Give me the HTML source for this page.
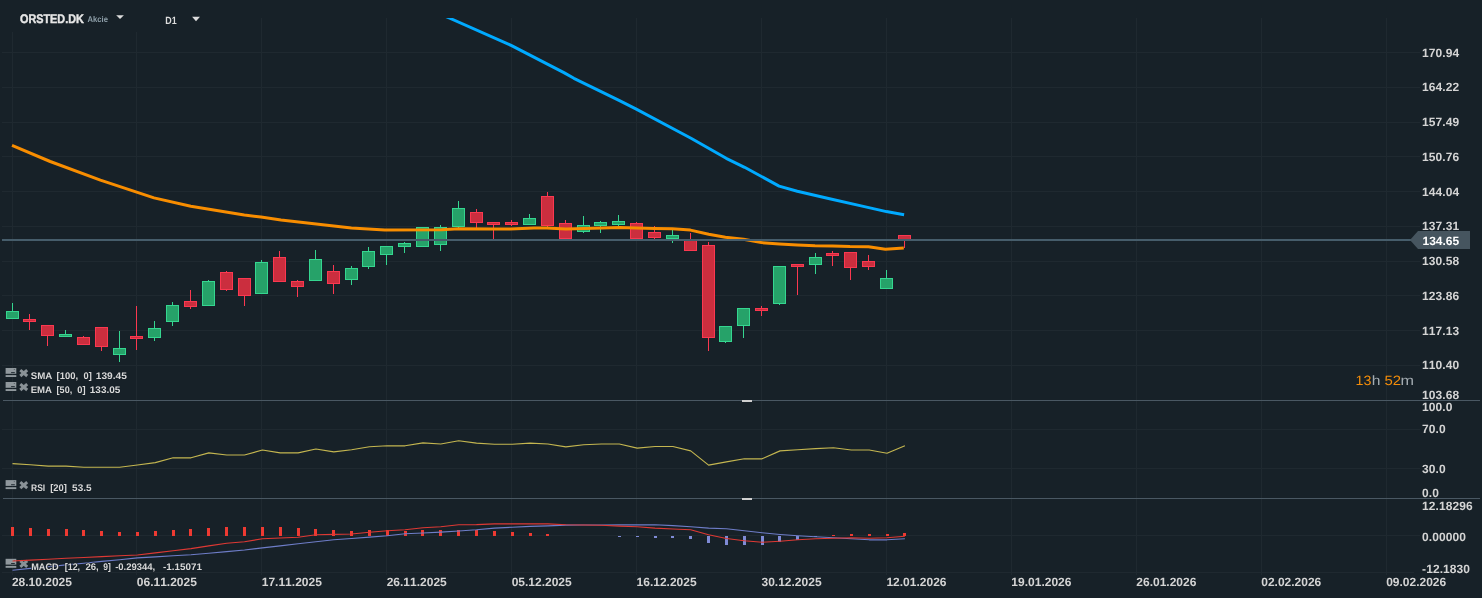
<!DOCTYPE html>
<html><head><meta charset="utf-8"><title>ORSTED.DK D1</title>
<style>html,body{margin:0;padding:0;background:#172128;overflow:hidden}svg{display:block;will-change:transform;text-rendering:geometricPrecision;font-kerning:none}</style>
</head><body>
<svg width="1482" height="598" viewBox="0 0 1482 598" font-family="Liberation Sans, sans-serif">
<rect width="1482" height="598" fill="#172128"/>
<g stroke="#1f2930" stroke-width="1" shape-rendering="crispEdges">
<line x1="12.5" y1="18" x2="12.5" y2="575"/>
<line x1="136.5" y1="18" x2="136.5" y2="575"/>
<line x1="261.5" y1="18" x2="261.5" y2="575"/>
<line x1="386.5" y1="18" x2="386.5" y2="575"/>
<line x1="511.5" y1="18" x2="511.5" y2="575"/>
<line x1="636.5" y1="18" x2="636.5" y2="575"/>
<line x1="761.5" y1="18" x2="761.5" y2="575"/>
<line x1="886.5" y1="18" x2="886.5" y2="575"/>
<line x1="1011.5" y1="18" x2="1011.5" y2="575"/>
<line x1="1136.5" y1="18" x2="1136.5" y2="575"/>
<line x1="1261.5" y1="18" x2="1261.5" y2="575"/>
<line x1="1386.5" y1="18" x2="1386.5" y2="575"/>
<line x1="2" y1="52.5" x2="1420" y2="52.5"/>
<line x1="2" y1="87.5" x2="1420" y2="87.5"/>
<line x1="2" y1="122.5" x2="1420" y2="122.5"/>
<line x1="2" y1="156.5" x2="1420" y2="156.5"/>
<line x1="2" y1="191.5" x2="1420" y2="191.5"/>
<line x1="2" y1="226.5" x2="1420" y2="226.5"/>
<line x1="2" y1="261.5" x2="1420" y2="261.5"/>
<line x1="2" y1="295.5" x2="1420" y2="295.5"/>
<line x1="2" y1="330.5" x2="1420" y2="330.5"/>
<line x1="2" y1="365.5" x2="1420" y2="365.5"/>
<line x1="2" y1="429.5" x2="1420" y2="429.5"/>
<line x1="2" y1="468.5" x2="1420" y2="468.5"/>
<line x1="2" y1="535.5" x2="1420" y2="535.5"/>
<line x1="2" y1="572.5" x2="1414" y2="572.5"/>
</g>
<g shape-rendering="crispEdges">
<rect x="12.0" y="303" width="1" height="16" fill="#35d690"/>
<rect x="6.0" y="311" width="13" height="8" fill="#35d690"/>
<rect x="7.0" y="312" width="11" height="6" fill="#26a269"/>
<rect x="29.0" y="314" width="1" height="16" fill="#fb3850"/>
<rect x="23.0" y="319" width="13" height="3" fill="#fb3850"/>
<rect x="24.0" y="320" width="11" height="1" fill="#cb2e3e"/>
<rect x="47.0" y="325" width="1" height="21" fill="#fb3850"/>
<rect x="41.0" y="325" width="13" height="11" fill="#fb3850"/>
<rect x="42.0" y="326" width="11" height="9" fill="#cb2e3e"/>
<rect x="65.0" y="330" width="1" height="7" fill="#35d690"/>
<rect x="59.0" y="334" width="13" height="3" fill="#35d690"/>
<rect x="60.0" y="335" width="11" height="1" fill="#26a269"/>
<rect x="83.0" y="336" width="1" height="9" fill="#fb3850"/>
<rect x="77.0" y="337" width="13" height="8" fill="#fb3850"/>
<rect x="78.0" y="338" width="11" height="6" fill="#cb2e3e"/>
<rect x="101.0" y="327" width="1" height="24" fill="#fb3850"/>
<rect x="95.0" y="327" width="13" height="20" fill="#fb3850"/>
<rect x="96.0" y="328" width="11" height="18" fill="#cb2e3e"/>
<rect x="119.0" y="331" width="1" height="31" fill="#35d690"/>
<rect x="113.0" y="348" width="13" height="7" fill="#35d690"/>
<rect x="114.0" y="349" width="11" height="5" fill="#26a269"/>
<rect x="136.0" y="306" width="1" height="44" fill="#fb3850"/>
<rect x="130.0" y="336" width="13" height="3" fill="#fb3850"/>
<rect x="131.0" y="337" width="11" height="1" fill="#cb2e3e"/>
<rect x="154.0" y="321" width="1" height="20" fill="#35d690"/>
<rect x="148.0" y="328" width="13" height="10" fill="#35d690"/>
<rect x="149.0" y="329" width="11" height="8" fill="#26a269"/>
<rect x="172.0" y="302" width="1" height="24" fill="#35d690"/>
<rect x="166.0" y="305" width="13" height="17" fill="#35d690"/>
<rect x="167.0" y="306" width="11" height="15" fill="#26a269"/>
<rect x="190.0" y="290" width="1" height="19" fill="#fb3850"/>
<rect x="184.0" y="301" width="13" height="6" fill="#fb3850"/>
<rect x="185.0" y="302" width="11" height="4" fill="#cb2e3e"/>
<rect x="208.0" y="280" width="1" height="26" fill="#35d690"/>
<rect x="202.0" y="281" width="13" height="25" fill="#35d690"/>
<rect x="203.0" y="282" width="11" height="23" fill="#26a269"/>
<rect x="226.0" y="271" width="1" height="20" fill="#fb3850"/>
<rect x="220.0" y="272" width="13" height="18" fill="#fb3850"/>
<rect x="221.0" y="273" width="11" height="16" fill="#cb2e3e"/>
<rect x="244.0" y="278" width="1" height="28" fill="#fb3850"/>
<rect x="238.0" y="278" width="13" height="18" fill="#fb3850"/>
<rect x="239.0" y="279" width="11" height="16" fill="#cb2e3e"/>
<rect x="261.0" y="260" width="1" height="34" fill="#35d690"/>
<rect x="255.0" y="262" width="13" height="32" fill="#35d690"/>
<rect x="256.0" y="263" width="11" height="30" fill="#26a269"/>
<rect x="279.0" y="251" width="1" height="31" fill="#fb3850"/>
<rect x="273.0" y="257" width="13" height="25" fill="#fb3850"/>
<rect x="274.0" y="258" width="11" height="23" fill="#cb2e3e"/>
<rect x="297.0" y="280" width="1" height="17" fill="#fb3850"/>
<rect x="291.0" y="281" width="13" height="6" fill="#fb3850"/>
<rect x="292.0" y="282" width="11" height="4" fill="#cb2e3e"/>
<rect x="315.0" y="250" width="1" height="31" fill="#35d690"/>
<rect x="309.0" y="259" width="13" height="22" fill="#35d690"/>
<rect x="310.0" y="260" width="11" height="20" fill="#26a269"/>
<rect x="333.0" y="265" width="1" height="29" fill="#fb3850"/>
<rect x="327.0" y="271" width="13" height="13" fill="#fb3850"/>
<rect x="328.0" y="272" width="11" height="11" fill="#cb2e3e"/>
<rect x="351.0" y="266" width="1" height="19" fill="#35d690"/>
<rect x="345.0" y="268" width="13" height="12" fill="#35d690"/>
<rect x="346.0" y="269" width="11" height="10" fill="#26a269"/>
<rect x="368.0" y="247" width="1" height="22" fill="#35d690"/>
<rect x="362.0" y="251" width="13" height="16" fill="#35d690"/>
<rect x="363.0" y="252" width="11" height="14" fill="#26a269"/>
<rect x="386.0" y="246" width="1" height="19" fill="#35d690"/>
<rect x="380.0" y="246" width="13" height="9" fill="#35d690"/>
<rect x="381.0" y="247" width="11" height="7" fill="#26a269"/>
<rect x="404.0" y="242" width="1" height="11" fill="#35d690"/>
<rect x="398.0" y="243" width="13" height="4" fill="#35d690"/>
<rect x="399.0" y="244" width="11" height="2" fill="#26a269"/>
<rect x="422.0" y="227" width="1" height="20" fill="#35d690"/>
<rect x="416.0" y="227" width="13" height="20" fill="#35d690"/>
<rect x="417.0" y="228" width="11" height="18" fill="#26a269"/>
<rect x="440.0" y="225" width="1" height="26" fill="#35d690"/>
<rect x="434.0" y="227" width="13" height="18" fill="#35d690"/>
<rect x="435.0" y="228" width="11" height="16" fill="#26a269"/>
<rect x="458.0" y="201" width="1" height="27" fill="#35d690"/>
<rect x="452.0" y="208" width="13" height="19" fill="#35d690"/>
<rect x="453.0" y="209" width="11" height="17" fill="#26a269"/>
<rect x="476.0" y="209" width="1" height="19" fill="#fb3850"/>
<rect x="470.0" y="212" width="13" height="11" fill="#fb3850"/>
<rect x="471.0" y="213" width="11" height="9" fill="#cb2e3e"/>
<rect x="493.0" y="222" width="1" height="17" fill="#fb3850"/>
<rect x="487.0" y="222" width="13" height="3" fill="#fb3850"/>
<rect x="488.0" y="223" width="11" height="1" fill="#cb2e3e"/>
<rect x="511.0" y="220" width="1" height="6" fill="#fb3850"/>
<rect x="505.0" y="222" width="13" height="3" fill="#fb3850"/>
<rect x="506.0" y="223" width="11" height="1" fill="#cb2e3e"/>
<rect x="529.0" y="214" width="1" height="11" fill="#35d690"/>
<rect x="523.0" y="218" width="13" height="7" fill="#35d690"/>
<rect x="524.0" y="219" width="11" height="5" fill="#26a269"/>
<rect x="547.0" y="192" width="1" height="35" fill="#fb3850"/>
<rect x="541.0" y="196" width="13" height="30" fill="#fb3850"/>
<rect x="542.0" y="197" width="11" height="28" fill="#cb2e3e"/>
<rect x="565.0" y="220" width="1" height="19" fill="#fb3850"/>
<rect x="559.0" y="223" width="13" height="16" fill="#fb3850"/>
<rect x="560.0" y="224" width="11" height="14" fill="#cb2e3e"/>
<rect x="583.0" y="216" width="1" height="17" fill="#35d690"/>
<rect x="577.0" y="225" width="13" height="7" fill="#35d690"/>
<rect x="578.0" y="226" width="11" height="5" fill="#26a269"/>
<rect x="600.0" y="221" width="1" height="12" fill="#35d690"/>
<rect x="594.0" y="222" width="13" height="4" fill="#35d690"/>
<rect x="595.0" y="223" width="11" height="2" fill="#26a269"/>
<rect x="618.0" y="215" width="1" height="11" fill="#35d690"/>
<rect x="612.0" y="221" width="13" height="4" fill="#35d690"/>
<rect x="613.0" y="222" width="11" height="2" fill="#26a269"/>
<rect x="636.0" y="222" width="1" height="17" fill="#fb3850"/>
<rect x="630.0" y="223" width="13" height="16" fill="#fb3850"/>
<rect x="631.0" y="224" width="11" height="14" fill="#cb2e3e"/>
<rect x="654.0" y="226" width="1" height="13" fill="#fb3850"/>
<rect x="648.0" y="232" width="13" height="6" fill="#fb3850"/>
<rect x="649.0" y="233" width="11" height="4" fill="#cb2e3e"/>
<rect x="672.0" y="230" width="1" height="13" fill="#35d690"/>
<rect x="666.0" y="235" width="13" height="4" fill="#35d690"/>
<rect x="667.0" y="236" width="11" height="2" fill="#26a269"/>
<rect x="690.0" y="233" width="1" height="18" fill="#fb3850"/>
<rect x="684.0" y="239" width="13" height="12" fill="#fb3850"/>
<rect x="685.0" y="240" width="11" height="10" fill="#cb2e3e"/>
<rect x="708.0" y="242" width="1" height="109" fill="#fb3850"/>
<rect x="702.0" y="245" width="13" height="93" fill="#fb3850"/>
<rect x="703.0" y="246" width="11" height="91" fill="#cb2e3e"/>
<rect x="725.0" y="326" width="1" height="17" fill="#35d690"/>
<rect x="719.0" y="326" width="13" height="16" fill="#35d690"/>
<rect x="720.0" y="327" width="11" height="14" fill="#26a269"/>
<rect x="743.0" y="308" width="1" height="30" fill="#35d690"/>
<rect x="737.0" y="308" width="13" height="18" fill="#35d690"/>
<rect x="738.0" y="309" width="11" height="16" fill="#26a269"/>
<rect x="761.0" y="306" width="1" height="10" fill="#fb3850"/>
<rect x="755.0" y="308" width="13" height="3" fill="#fb3850"/>
<rect x="756.0" y="309" width="11" height="1" fill="#cb2e3e"/>
<rect x="779.0" y="266" width="1" height="39" fill="#35d690"/>
<rect x="773.0" y="266" width="13" height="38" fill="#35d690"/>
<rect x="774.0" y="267" width="11" height="36" fill="#26a269"/>
<rect x="797.0" y="264" width="1" height="31" fill="#fb3850"/>
<rect x="791.0" y="264" width="13" height="3" fill="#fb3850"/>
<rect x="792.0" y="265" width="11" height="1" fill="#cb2e3e"/>
<rect x="815.0" y="253" width="1" height="21" fill="#35d690"/>
<rect x="809.0" y="257" width="13" height="8" fill="#35d690"/>
<rect x="810.0" y="258" width="11" height="6" fill="#26a269"/>
<rect x="832.0" y="251" width="1" height="15" fill="#fb3850"/>
<rect x="826.0" y="253" width="13" height="3" fill="#fb3850"/>
<rect x="827.0" y="254" width="11" height="1" fill="#cb2e3e"/>
<rect x="850.0" y="252" width="1" height="28" fill="#fb3850"/>
<rect x="844.0" y="252" width="13" height="16" fill="#fb3850"/>
<rect x="845.0" y="253" width="11" height="14" fill="#cb2e3e"/>
<rect x="868.0" y="255" width="1" height="15" fill="#fb3850"/>
<rect x="862.0" y="261" width="13" height="6" fill="#fb3850"/>
<rect x="863.0" y="262" width="11" height="4" fill="#cb2e3e"/>
<rect x="886.0" y="270" width="1" height="19" fill="#35d690"/>
<rect x="880.0" y="278" width="13" height="11" fill="#35d690"/>
<rect x="881.0" y="279" width="11" height="9" fill="#26a269"/>
<rect x="904.0" y="235" width="1" height="13" fill="#fb3850"/>
<rect x="898.0" y="235" width="13" height="6" fill="#fb3850"/>
<rect x="899.0" y="236" width="11" height="4" fill="#cb2e3e"/>
</g>
<clipPath id="mp"><rect x="0" y="18" width="1420" height="382"/></clipPath>
<g clip-path="url(#mp)" fill="none" stroke-linejoin="round">
<path d="M440.0 13.9 L449.2 18.0 L511.6 45.6 L563.9 72.6 L573.9 78.3 L619.0 100.4 L635.8 108.9 L691.0 138.2 L726.2 158.3 L744.6 167.3 L770.0 181.1 L779.1 186.1 L797.3 191.2 L830.7 199.0 L861.1 205.9 L886.4 211.6 L904.1 214.8" stroke="#00aaff" stroke-width="3"/>
<path d="M12.0 145.3 L50.2 161.5 L100.4 180.2 L154.0 197.9 L190.8 206.3 L244.3 215.0 L261.0 217.0 L281.0 220.0 L351.4 228.1 L384.9 230.1 L441.8 229.7 L458.5 228.7 L496.0 229.1 L510.4 228.9 L533.9 227.9 L547.0 228.1 L565.7 229.1 L584.0 228.6 L620.0 227.6 L636.0 228.1 L654.5 228.4 L672.4 228.7 L690.4 230.1 L708.7 234.3 L725.4 237.3 L743.5 239.3 L761.4 242.6 L779.5 244.0 L797.4 245.1 L815.0 245.8 L832.5 245.9 L850.0 246.6 L868.5 246.8 L885.4 249.2 L903.8 247.9" stroke="#f88d00" stroke-width="3"/>
</g>
<rect x="2" y="239" width="1412" height="2" fill="#465d6b"/>
<polygon points="1410,240 1418,231 1470,231 1470,249 1418,249" fill="#46555f"/>
<rect x="3" y="400" width="1477" height="1" fill="#4a5863"/>
<rect x="3" y="498" width="1477" height="1" fill="#4a5863"/>
<rect x="742" y="400" width="10" height="2" fill="#d0d0d0"/>
<rect x="742" y="498" width="10" height="2" fill="#d0d0d0"/>
<g fill="#90989d"><rect x="5.6" y="368.0" width="10.7" height="5.8"/><rect x="5.6" y="375.09999999999997" width="10.7" height="1.9"/></g>
<rect x="11.1" y="372.2" width="3.7" height="0.9" fill="#172128"/><rect x="13.8" y="369.3" width="1" height="0.7" fill="#172128" opacity="0.7"/>
<g stroke="#8a9297" stroke-width="3" stroke-linecap="butt"><line x1="20.3" y1="370.09999999999997" x2="27.2" y2="376.0"/><line x1="27.2" y1="370.09999999999997" x2="20.3" y2="376.0"/></g>
<g fill="#90989d"><rect x="5.6" y="382.0" width="10.7" height="5.8"/><rect x="5.6" y="389.09999999999997" width="10.7" height="1.9"/></g>
<rect x="11.1" y="386.2" width="3.7" height="0.9" fill="#172128"/><rect x="13.8" y="383.3" width="1" height="0.7" fill="#172128" opacity="0.7"/>
<g stroke="#8a9297" stroke-width="3" stroke-linecap="butt"><line x1="20.3" y1="384.09999999999997" x2="27.2" y2="390.0"/><line x1="27.2" y1="384.09999999999997" x2="20.3" y2="390.0"/></g>
<g fill="#90989d"><rect x="5.6" y="480.1" width="10.7" height="5.8"/><rect x="5.6" y="487.2" width="10.7" height="1.9"/></g>
<rect x="11.1" y="484.3" width="3.7" height="0.9" fill="#172128"/><rect x="13.8" y="481.40000000000003" width="1" height="0.7" fill="#172128" opacity="0.7"/>
<g stroke="#8a9297" stroke-width="3" stroke-linecap="butt"><line x1="20.3" y1="482.2" x2="27.2" y2="488.1"/><line x1="27.2" y1="482.2" x2="20.3" y2="488.1"/></g>
<g fill="#90989d"><rect x="5.6" y="558.8" width="10.7" height="5.8"/><rect x="5.6" y="565.9" width="10.7" height="1.9"/></g>
<rect x="11.1" y="563.0" width="3.7" height="0.9" fill="#172128"/><rect x="13.8" y="560.1" width="1" height="0.7" fill="#172128" opacity="0.7"/>
<g stroke="#8a9297" stroke-width="3" stroke-linecap="butt"><line x1="20.3" y1="560.9" x2="27.2" y2="566.8"/><line x1="27.2" y1="560.9" x2="20.3" y2="566.8"/></g>
<path d="M12.5 463.6 L30.3 464.7 L48.2 466.1 L66.0 466.1 L83.9 467.2 L101.7 467.2 L119.6 467.2 L137.4 465.0 L155.3 462.6 L173.1 457.8 L191.0 457.8 L208.8 452.9 L226.7 455.0 L244.5 455.0 L262.4 450.0 L280.2 452.9 L298.1 452.9 L315.9 449.0 L333.8 451.9 L351.6 449.8 L369.5 446.7 L387.3 445.8 L405.1 445.8 L423.0 442.9 L440.8 444.0 L458.7 440.8 L476.5 443.1 L494.4 444.2 L512.2 444.2 L530.1 443.1 L547.9 444.0 L565.8 446.9 L583.6 444.8 L601.5 444.0 L619.3 444.0 L637.2 448.1 L655.0 446.5 L672.9 446.5 L690.7 450.9 L708.6 465.1 L726.4 461.9 L744.3 458.8 L762.1 458.8 L780.0 450.9 L797.8 449.8 L815.6 448.6 L833.5 447.7 L851.3 450.0 L869.2 450.0 L887.0 453.2 L904.9 445.8" fill="none" stroke="#c4b650" stroke-width="1.15" stroke-linejoin="round"/>
<g shape-rendering="crispEdges">
<rect x="11" y="527" width="3" height="9" fill="#ee3a32"/>
<rect x="29" y="528" width="3" height="8" fill="#ee3a32"/>
<rect x="47" y="529" width="3" height="7" fill="#ee3a32"/>
<rect x="65" y="529" width="3" height="7" fill="#ee3a32"/>
<rect x="82" y="530" width="3" height="6" fill="#ee3a32"/>
<rect x="100" y="531" width="3" height="5" fill="#ee3a32"/>
<rect x="118" y="532" width="3" height="4" fill="#ee3a32"/>
<rect x="136" y="532" width="3" height="4" fill="#ee3a32"/>
<rect x="154" y="531" width="3" height="5" fill="#ee3a32"/>
<rect x="172" y="530" width="3" height="6" fill="#ee3a32"/>
<rect x="189" y="529" width="3" height="7" fill="#ee3a32"/>
<rect x="207" y="528" width="3" height="8" fill="#ee3a32"/>
<rect x="225" y="527" width="3" height="9" fill="#ee3a32"/>
<rect x="243" y="527" width="3" height="9" fill="#ee3a32"/>
<rect x="261" y="527" width="3" height="9" fill="#ee3a32"/>
<rect x="279" y="527" width="3" height="9" fill="#ee3a32"/>
<rect x="297" y="528" width="3" height="8" fill="#ee3a32"/>
<rect x="314" y="529" width="3" height="7" fill="#ee3a32"/>
<rect x="332" y="530" width="3" height="6" fill="#ee3a32"/>
<rect x="350" y="531" width="3" height="5" fill="#ee3a32"/>
<rect x="368" y="530" width="3" height="6" fill="#ee3a32"/>
<rect x="386" y="530" width="3" height="6" fill="#ee3a32"/>
<rect x="404" y="531" width="3" height="5" fill="#ee3a32"/>
<rect x="421" y="530" width="3" height="6" fill="#ee3a32"/>
<rect x="439" y="530" width="3" height="6" fill="#ee3a32"/>
<rect x="457" y="530" width="3" height="6" fill="#ee3a32"/>
<rect x="475" y="530" width="3" height="6" fill="#ee3a32"/>
<rect x="493" y="531" width="3" height="5" fill="#ee3a32"/>
<rect x="511" y="532" width="3" height="4" fill="#ee3a32"/>
<rect x="529" y="533" width="3" height="3" fill="#ee3a32"/>
<rect x="546" y="534" width="3" height="2" fill="#ee3a32"/>
<rect x="618" y="536" width="3" height="1" fill="#7f8bd6"/>
<rect x="636" y="536" width="3" height="1" fill="#7f8bd6"/>
<rect x="654" y="536" width="3" height="2" fill="#7f8bd6"/>
<rect x="671" y="536" width="3" height="2" fill="#7f8bd6"/>
<rect x="689" y="536" width="3" height="3" fill="#7f8bd6"/>
<rect x="707" y="536" width="3" height="7" fill="#7f8bd6"/>
<rect x="725" y="536" width="3" height="9" fill="#7f8bd6"/>
<rect x="743" y="536" width="3" height="9" fill="#7f8bd6"/>
<rect x="761" y="536" width="3" height="9" fill="#7f8bd6"/>
<rect x="778" y="536" width="3" height="6" fill="#7f8bd6"/>
<rect x="796" y="536" width="3" height="4" fill="#7f8bd6"/>
<rect x="814" y="536" width="3" height="1" fill="#7f8bd6"/>
<rect x="832" y="535" width="3" height="1" fill="#ee3a32"/>
<rect x="850" y="534" width="3" height="2" fill="#ee3a32"/>
<rect x="868" y="534" width="3" height="2" fill="#ee3a32"/>
<rect x="886" y="534" width="3" height="2" fill="#ee3a32"/>
<rect x="903" y="533" width="3" height="3" fill="#ee3a32"/>
</g>
<path d="M12.5 570.2 L30.3 568.4 L48.2 566.7 L66.0 564.9 L83.9 563.2 L101.7 561.4 L119.6 559.7 L137.4 557.9 L155.3 556.9 L173.1 555.8 L191.0 554.8 L208.8 553.2 L226.7 551.6 L244.5 550.0 L262.4 547.9 L280.2 545.9 L298.1 543.8 L315.9 541.8 L333.8 539.8 L351.6 538.5 L369.5 537.1 L387.3 535.8 L405.1 533.8 L423.0 533.0 L440.8 532.1 L458.7 531.0 L476.5 529.8 L494.4 528.1 L512.2 527.2 L530.1 526.4 L547.9 525.9 L565.8 525.1 L583.6 525.0 L601.5 525.0 L619.3 524.9 L637.2 524.9 L655.0 524.8 L672.9 525.6 L690.7 526.8 L708.6 528.1 L726.4 528.8 L744.3 530.8 L762.1 532.8 L780.0 534.5 L797.8 535.8 L815.6 536.8 L833.5 537.8 L851.3 538.8 L869.2 539.8 L887.0 539.8 L904.9 538.8" fill="none" stroke="#6e7dc8" stroke-width="1.15" stroke-linejoin="round"/>
<path d="M12.5 561.0 L30.3 560.1 L48.2 559.2 L66.0 558.3 L83.9 557.5 L101.7 556.6 L119.6 555.8 L137.4 555.0 L155.3 552.9 L173.1 550.7 L191.0 548.6 L208.8 545.9 L226.7 543.2 L244.5 541.8 L262.4 538.8 L280.2 538.0 L298.1 537.2 L315.9 534.8 L333.8 534.4 L351.6 534.0 L369.5 532.3 L387.3 530.8 L405.1 529.8 L423.0 527.8 L440.8 526.8 L458.7 524.8 L476.5 524.6 L494.4 523.9 L512.2 523.9 L530.1 523.9 L547.9 523.9 L565.8 524.8 L583.6 525.0 L601.5 525.3 L619.3 526.1 L637.2 526.8 L655.0 528.1 L672.9 529.0 L690.7 529.8 L708.6 534.8 L726.4 538.5 L744.3 540.8 L762.1 542.3 L780.0 541.2 L797.8 539.8 L815.6 538.8 L833.5 538.2 L851.3 537.8 L869.2 538.2 L887.0 537.8 L904.9 536.2" fill="none" stroke="#de3934" stroke-width="1.15" stroke-linejoin="round"/>
<rect x="0" y="0" width="210" height="32" fill="#172128"/>
<text x="20" y="23.1" font-size="12.4" font-weight="bold" fill="#e6e6e6" stroke="#e6e6e6" stroke-width="0.45" textLength="63.8" lengthAdjust="spacingAndGlyphs">ORSTED.DK</text>
<text x="87.5" y="22.1" font-size="8.3" font-weight="bold" fill="#8fa0aa" textLength="20.4" lengthAdjust="spacingAndGlyphs">Akcie</text>
<polygon points="116.2,15.2 123.9,15.2 120,19" fill="#dddddd"/>
<text x="165.3" y="24.3" font-size="10.5" font-weight="bold" fill="#dddddd" textLength="11.4" lengthAdjust="spacingAndGlyphs">D1</text>
<polygon points="192.1,16.8 200,16.8 196,21.2" fill="#dddddd"/>
<text x="1422.1" y="57" font-size="12" font-weight="bold" fill="#d4d4d4" letter-spacing="0.08">170.94</text>
<text x="1422.1" y="91" font-size="12" font-weight="bold" fill="#d4d4d4" letter-spacing="0.08">164.22</text>
<text x="1422.1" y="126" font-size="12" font-weight="bold" fill="#d4d4d4" letter-spacing="0.08">157.49</text>
<text x="1422.1" y="161" font-size="12" font-weight="bold" fill="#d4d4d4" letter-spacing="0.08">150.76</text>
<text x="1422.1" y="196" font-size="12" font-weight="bold" fill="#d4d4d4" letter-spacing="0.08">144.04</text>
<text x="1422.1" y="230" font-size="12" font-weight="bold" fill="#d4d4d4" letter-spacing="0.08">137.31</text>
<text x="1422.1" y="265" font-size="12" font-weight="bold" fill="#d4d4d4" letter-spacing="0.08">130.58</text>
<text x="1422.1" y="300" font-size="12" font-weight="bold" fill="#d4d4d4" letter-spacing="0.08">123.86</text>
<text x="1422.1" y="335" font-size="12" font-weight="bold" fill="#d4d4d4" letter-spacing="0.08">117.13</text>
<text x="1422.1" y="369" font-size="12" font-weight="bold" fill="#d4d4d4" letter-spacing="0.08">110.40</text>
<text x="1422.1" y="399" font-size="12" font-weight="bold" fill="#d4d4d4" letter-spacing="0.08">103.68</text>
<text x="1422.1" y="411" font-size="12" font-weight="bold" fill="#d4d4d4" letter-spacing="0.08">100.0</text>
<text x="1422.1" y="433" font-size="12" font-weight="bold" fill="#d4d4d4" letter-spacing="0.08">70.0</text>
<text x="1422.1" y="473" font-size="12" font-weight="bold" fill="#d4d4d4" letter-spacing="0.08">30.0</text>
<text x="1422.1" y="497" font-size="12" font-weight="bold" fill="#d4d4d4" letter-spacing="0.08">0.0</text>
<text x="1422.1" y="510" font-size="12" font-weight="bold" fill="#d4d4d4" letter-spacing="0.08">12.18296</text>
<text x="1422.1" y="541" font-size="12" font-weight="bold" fill="#d4d4d4" letter-spacing="0.08">0.00000</text>
<text x="1422.1" y="573" font-size="12" font-weight="bold" fill="#d4d4d4" letter-spacing="0.08">-12.1830</text>
<text x="1422.5" y="244.8" font-size="12" font-weight="bold" fill="#ffffff">134.65</text>
<text x="11.90" y="586" font-size="12" font-weight="bold" fill="#d4d4d4">28.10.2025</text>
<text x="136.83" y="586" font-size="12" font-weight="bold" fill="#d4d4d4">06.11.2025</text>
<text x="261.77" y="586" font-size="12" font-weight="bold" fill="#d4d4d4">17.11.2025</text>
<text x="386.70" y="586" font-size="12" font-weight="bold" fill="#d4d4d4">26.11.2025</text>
<text x="511.64" y="586" font-size="12" font-weight="bold" fill="#d4d4d4">05.12.2025</text>
<text x="636.57" y="586" font-size="12" font-weight="bold" fill="#d4d4d4">16.12.2025</text>
<text x="761.50" y="586" font-size="12" font-weight="bold" fill="#d4d4d4">30.12.2025</text>
<text x="886.44" y="586" font-size="12" font-weight="bold" fill="#d4d4d4">12.01.2026</text>
<text x="1011.37" y="586" font-size="12" font-weight="bold" fill="#d4d4d4">19.01.2026</text>
<text x="1136.31" y="586" font-size="12" font-weight="bold" fill="#d4d4d4">26.01.2026</text>
<text x="1261.24" y="586" font-size="12" font-weight="bold" fill="#d4d4d4">02.02.2026</text>
<text x="1386.17" y="586" font-size="12" font-weight="bold" fill="#d4d4d4">09.02.2026</text>
<text x="1355.5" y="384.9" font-size="13.6" fill="#f28c0a" textLength="15.9" lengthAdjust="spacingAndGlyphs">13</text>
<text x="1371.8" y="384.9" font-size="13.6" fill="#a3abb1" textLength="8.7" lengthAdjust="spacingAndGlyphs">h</text>
<text x="1384.4" y="384.9" font-size="13.6" fill="#f28c0a" textLength="16.6" lengthAdjust="spacingAndGlyphs">52</text>
<text x="1400.6" y="384.9" font-size="13.6" fill="#a3abb1" textLength="13.5" lengthAdjust="spacingAndGlyphs">m</text>
<text x="30.7" y="378.9" font-size="9.6" font-weight="bold" fill="#d8d8d8" stroke="#172128" stroke-width="1.6" stroke-opacity="0.85" paint-order="stroke" textLength="21.6" lengthAdjust="spacingAndGlyphs">SMA</text>
<text x="56.6" y="378.9" font-size="9.6" font-weight="bold" fill="#d8d8d8" stroke="#172128" stroke-width="1.6" stroke-opacity="0.85" paint-order="stroke" textLength="21.6" lengthAdjust="spacingAndGlyphs">[100,</text>
<text x="83.5" y="378.9" font-size="9.6" font-weight="bold" fill="#d8d8d8" stroke="#172128" stroke-width="1.6" stroke-opacity="0.85" paint-order="stroke" textLength="8.2" lengthAdjust="spacingAndGlyphs">0]</text>
<text x="95.8" y="378.9" font-size="9.6" font-weight="bold" fill="#d8d8d8" stroke="#172128" stroke-width="1.6" stroke-opacity="0.85" paint-order="stroke" textLength="31.1" lengthAdjust="spacingAndGlyphs">139.45</text>
<text x="30.7" y="392.9" font-size="9.6" font-weight="bold" fill="#d8d8d8" stroke="#172128" stroke-width="1.6" stroke-opacity="0.85" paint-order="stroke" textLength="21.3" lengthAdjust="spacingAndGlyphs">EMA</text>
<text x="56.6" y="392.9" font-size="9.6" font-weight="bold" fill="#d8d8d8" stroke="#172128" stroke-width="1.6" stroke-opacity="0.85" paint-order="stroke" textLength="15.6" lengthAdjust="spacingAndGlyphs">[50,</text>
<text x="77.2" y="392.9" font-size="9.6" font-weight="bold" fill="#d8d8d8" stroke="#172128" stroke-width="1.6" stroke-opacity="0.85" paint-order="stroke" textLength="8.3" lengthAdjust="spacingAndGlyphs">0]</text>
<text x="89.8" y="392.9" font-size="9.6" font-weight="bold" fill="#d8d8d8" stroke="#172128" stroke-width="1.6" stroke-opacity="0.85" paint-order="stroke" textLength="30.6" lengthAdjust="spacingAndGlyphs">133.05</text>
<text x="31.0" y="491.0" font-size="9.6" font-weight="bold" fill="#d8d8d8" stroke="#172128" stroke-width="1.6" stroke-opacity="0.85" paint-order="stroke" textLength="14.2" lengthAdjust="spacingAndGlyphs">RSI</text>
<text x="50.2" y="491.0" font-size="9.6" font-weight="bold" fill="#d8d8d8" stroke="#172128" stroke-width="1.6" stroke-opacity="0.85" paint-order="stroke" textLength="16.7" lengthAdjust="spacingAndGlyphs">[20]</text>
<text x="72.1" y="491.0" font-size="9.6" font-weight="bold" fill="#d8d8d8" stroke="#172128" stroke-width="1.6" stroke-opacity="0.85" paint-order="stroke" textLength="19.5" lengthAdjust="spacingAndGlyphs">53.5</text>
<text x="31.2" y="569.7" font-size="9.6" font-weight="bold" fill="#d8d8d8" stroke="#172128" stroke-width="1.6" stroke-opacity="0.85" paint-order="stroke" textLength="27.5" lengthAdjust="spacingAndGlyphs">MACD</text>
<text x="64.7" y="569.7" font-size="9.6" font-weight="bold" fill="#d8d8d8" stroke="#172128" stroke-width="1.6" stroke-opacity="0.85" paint-order="stroke" textLength="15.4" lengthAdjust="spacingAndGlyphs">[12,</text>
<text x="85.4" y="569.7" font-size="9.6" font-weight="bold" fill="#d8d8d8" stroke="#172128" stroke-width="1.6" stroke-opacity="0.85" paint-order="stroke" textLength="13.3" lengthAdjust="spacingAndGlyphs">26,</text>
<text x="103.3" y="569.7" font-size="9.6" font-weight="bold" fill="#d8d8d8" stroke="#172128" stroke-width="1.6" stroke-opacity="0.85" paint-order="stroke" textLength="7.6" lengthAdjust="spacingAndGlyphs">9]</text>
<text x="115.2" y="569.7" font-size="9.6" font-weight="bold" fill="#d8d8d8" stroke="#172128" stroke-width="1.6" stroke-opacity="0.85" paint-order="stroke" textLength="40.0" lengthAdjust="spacingAndGlyphs">-0.29344,</text>
<text x="163.1" y="569.7" font-size="9.6" font-weight="bold" fill="#d8d8d8" stroke="#172128" stroke-width="1.6" stroke-opacity="0.85" paint-order="stroke" textLength="38.9" lengthAdjust="spacingAndGlyphs">-1.15071</text>
</svg>
</body></html>
